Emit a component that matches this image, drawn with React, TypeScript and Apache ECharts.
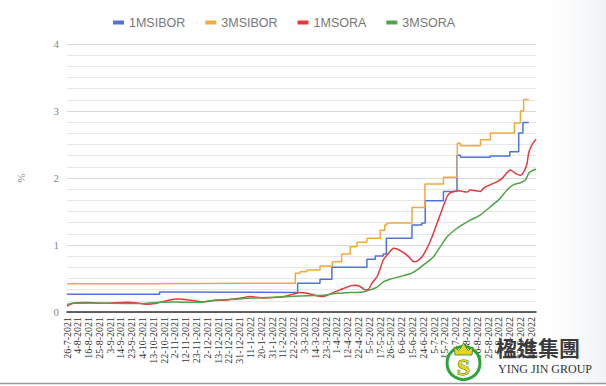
import React, { useEffect, useRef } from "react";
import * as echarts from "echarts";

// Category labels (every 7th business day); x values are business-day indices
const X_LABELS = [
  "26-7-2021", "4-8-2021", "16-8-2021", "25-8-2021", "3-9-2021", "14-9-2021", "23-9-2021",
  "4-10-2021", "13-10-2021", "22-10-2021", "2-11-2021", "12-11-2021", "23-11-2021", "2-12-2021",
  "13-12-2021", "22-12-2021", "31-12-2021", "11-1-2022", "20-1-2022", "31-1-2022", "11-2-2022",
  "22-2-2022", "3-3-2022", "14-3-2022", "23-3-2022", "1-4-2022", "12-4-2022", "22-4-2022",
  "5-5-2022", "17-5-2022", "26-5-2022", "6-6-2022", "15-6-2022", "24-6-2022", "5-7-2022",
  "15-7-2022", "26-7-2022", "4-8-2022", "16-8-2022", "25-8-2022", "5-9-2022", "14-9-2022",
  "23-9-2022", "4-10-2022",
];
const LABEL_STEP = 7;
const X_MAX = 304;

const Y_TICKS = [0, 1, 2, 3, 4];

// [day index, rate %] at the points where the line changes
const SIBOR_1M: [number, number][] = [
  [0, 0.265], [60, 0.3], [65, 0.29], [149.5, 0.43], [164, 0.49], [171.7, 0.667],
  [194.4, 0.786], [199.8, 0.836], [205, 0.866], [207, 1.1], [223.6, 1.3], [230, 1.33],
  [232.2, 1.66], [244, 1.8], [252.8, 2.34], [255, 2.31], [274.4, 2.33], [287, 2.39],
  [292.8, 2.67], [295.5, 2.83], [299.3, 2.83],
];

const SIBOR_3M: [number, number][] = [
  [0, 0.42], [48.7, 0.43], [148, 0.58], [151, 0.6], [155.5, 0.627], [164, 0.687],
  [172, 0.75], [178, 0.866], [183.6, 0.975], [188, 1.04], [194.4, 1.1], [203, 1.22],
  [206, 1.3], [207.4, 1.33], [223.6, 1.56], [232, 1.91], [244, 2.01], [253, 2.52],
  [255, 2.48], [268, 2.57], [274.4, 2.67], [290, 2.82], [293.9, 3.0], [296, 3.17],
  [299.3, 3.17],
];

const SORA_1M: [number, number][] = [
  [0, 0.09], [4, 0.13], [13, 0.14], [24, 0.13], [39, 0.145], [47, 0.13], [52, 0.115],
  [58, 0.13], [62.5, 0.155], [69, 0.19], [73, 0.195], [82, 0.17], [88, 0.15], [95, 0.17],
  [103.6, 0.18], [112, 0.205], [118.7, 0.23], [127, 0.21], [134, 0.215], [142.5, 0.24],
  [151, 0.29], [155.5, 0.28], [160, 0.254], [166, 0.23], [170.6, 0.27], [177, 0.33],
  [183.6, 0.39], [186.8, 0.4], [190, 0.38], [193.3, 0.33], [195.5, 0.34], [197.7, 0.43],
  [201, 0.53], [203, 0.65], [205, 0.776], [208.4, 0.876], [211.7, 0.95], [213.9, 0.94],
  [218.2, 0.886], [221.4, 0.826], [224.7, 0.75], [226.9, 0.76], [230, 0.82], [233.3, 0.95],
  [236.6, 1.12], [239.8, 1.32], [243, 1.52], [246.3, 1.72], [248.5, 1.78], [253.9, 1.81],
  [259.3, 1.79], [261.4, 1.82], [268, 1.8], [270, 1.85], [274.4, 1.9], [278.8, 1.945],
  [282, 1.995], [285.2, 2.08], [287.4, 2.12], [290.6, 2.07], [293.9, 2.04], [296.5, 2.11],
  [298.2, 2.22], [299.3, 2.38], [301.5, 2.5], [304, 2.58],
];

const SORA_3M: [number, number][] = [
  [0, 0.114], [4, 0.13], [17, 0.135], [28, 0.13], [49.5, 0.125], [60, 0.144], [69, 0.15],
  [82, 0.144], [88, 0.15], [97, 0.18], [108, 0.19], [116.6, 0.204], [125, 0.214],
  [134, 0.22], [144.7, 0.23], [156.5, 0.244], [166, 0.25], [175, 0.28], [183.6, 0.29],
  [192, 0.3], [196.6, 0.33], [201, 0.37], [205, 0.45], [209.5, 0.49], [216, 0.53],
  [222.5, 0.57], [227, 0.627], [231, 0.7], [237.6, 0.826], [242, 0.975], [246.3, 1.12],
  [252.8, 1.25], [261.4, 1.37], [268, 1.45], [274.4, 1.57], [280.9, 1.7], [285.2, 1.82],
  [289.5, 1.9], [293.9, 1.93], [297.1, 1.97], [299.3, 2.07], [301.5, 2.11], [304, 2.13],
];

const SERIES_NAMES = ["1MSIBOR", "3MSIBOR", "1MSORA", "3MSORA"];
const COLORS = ["#4f73d9", "#f5a93a", "#e8383a", "#4ea447"];

export default function App() {
  const ref = useRef<HTMLDivElement>(null);

  useEffect(() => {
    document.body.style.margin = "0";
    if (!ref.current) return;
    const chart = echarts.init(ref.current, null, { renderer: "svg" });
    const datasets = [SIBOR_1M, SIBOR_3M, SORA_1M, SORA_3M];
    chart.setOption({
      animation: false,
      backgroundColor: "#ffffff",
      color: COLORS,
      legend: {
        left: 108,
        top: 11,
        icon: "rect",
        itemWidth: 11,
        itemHeight: 4,
        itemGap: 20,
        data: SERIES_NAMES,
        textStyle: { color: "#777777", fontFamily: "Liberation Sans", fontSize: 12.5 },
      },
      grid: { left: 67, right: 70, top: 44, bottom: 74 },
      xAxis: {
        type: "value",
        min: 0,
        max: X_MAX,
        interval: LABEL_STEP,
        axisLine: { show: true, lineStyle: { color: "#333333", width: 1.5 } },
        axisTick: { show: false },
        splitLine: { show: false },
        axisLabel: {
          rotate: 90,
          margin: 5,
          hideOverlap: false,
          color: "#333333",
          fontFamily: "Liberation Serif",
          fontSize: 10,
          formatter: (v: number) => {
            if (v % LABEL_STEP !== 0) return "";
            return X_LABELS[v / LABEL_STEP] ?? "";
          },
        },
      },
      yAxis: {
        type: "value",
        min: Y_TICKS[0],
        max: Y_TICKS[Y_TICKS.length - 1],
        interval: 1,
        name: "%",
        nameLocation: "middle",
        nameGap: 41,
        nameTextStyle: { color: "#888888", fontFamily: "Liberation Serif", fontSize: 11 },
        axisLine: { show: false },
        axisTick: { show: false },
        axisLabel: { color: "#888888", fontFamily: "Liberation Serif", fontSize: 11, margin: 8 },
        splitLine: { lineStyle: { color: "#d9d9d9", width: 1 } },
        minorTick: { show: false, splitNumber: 6 },
        minorSplitLine: { show: true, lineStyle: { color: "#e6e6e6", width: 1 } },
      },
      series: datasets.map((d, i) => ({
        name: SERIES_NAMES[i],
        type: "line",
        data: d,
        step: i < 2 ? "end" : false,
        smooth: i < 2 ? false : 0.2,
        symbol: "none",
        lineStyle: { width: 1.5, color: COLORS[i] },
        itemStyle: { color: COLORS[i] },
      })),
      graphic: [
        {
          type: "rect",
          z: 0,
          silent: true,
          shape: { x: 548, y: 0, width: 58, height: 383 },
          style: {
            fill: new echarts.graphic.LinearGradient(0, 0, 1, 0, [
              { offset: 0, color: "rgba(244,245,248,0)" },
              { offset: 1, color: "rgba(240,242,246,1)" },
            ]),
          },
        },
        {
          type: "line",
          z: 10,
          shape: { x1: 0, y1: 383.5, x2: 606, y2: 383.5 },
          style: { stroke: "#9a9a9a", lineWidth: 1.5 },
        },
        {
          type: "circle",
          z: 20,
          shape: { cx: 463.5, cy: 363, r: 16.5 },
          style: { fill: "#ffffff", stroke: "#2ba53a", lineWidth: 3 },
        },
        {
          type: "polygon",
          z: 21,
          shape: {
            points: [
              [455, 355], [454, 347], [459, 350.5], [463.5, 343], [468, 350.5], [473, 347], [472, 355],
            ],
          },
          style: { fill: "#e6d41e", stroke: "#2f7d2c", lineWidth: 0.8 },
        },
        {
          type: "text",
          z: 21,
          style: {
            x: 463.5,
            y: 367,
            text: "S",
            align: "center",
            verticalAlign: "middle",
            fontSize: 23,
            fontWeight: "bold",
            fontFamily: "Liberation Serif",
            fill: "#e6d41e",
            stroke: "#2f7d2c",
            lineWidth: 1,
          },
        },
        {
          type: "text",
          z: 21,
          style: {
            x: 496,
            y: 347,
            text: "楹進集團",
            verticalAlign: "middle",
            fontSize: 21,
            fontWeight: "bold",
            fontFamily: "Noto Sans CJK TC",
            fill: "#3a3a3a",
          },
        },
        {
          type: "text",
          z: 21,
          style: {
            x: 498,
            y: 369,
            text: "YING JIN GROUP",
            verticalAlign: "middle",
            fontSize: 12,
            fontFamily: "Liberation Serif",
            fill: "#333333",
          },
        },
      ],
    });
    return () => chart.dispose();
  }, []);

  return <div ref={ref} style={{ width: 606, height: 386 }} />;
}
